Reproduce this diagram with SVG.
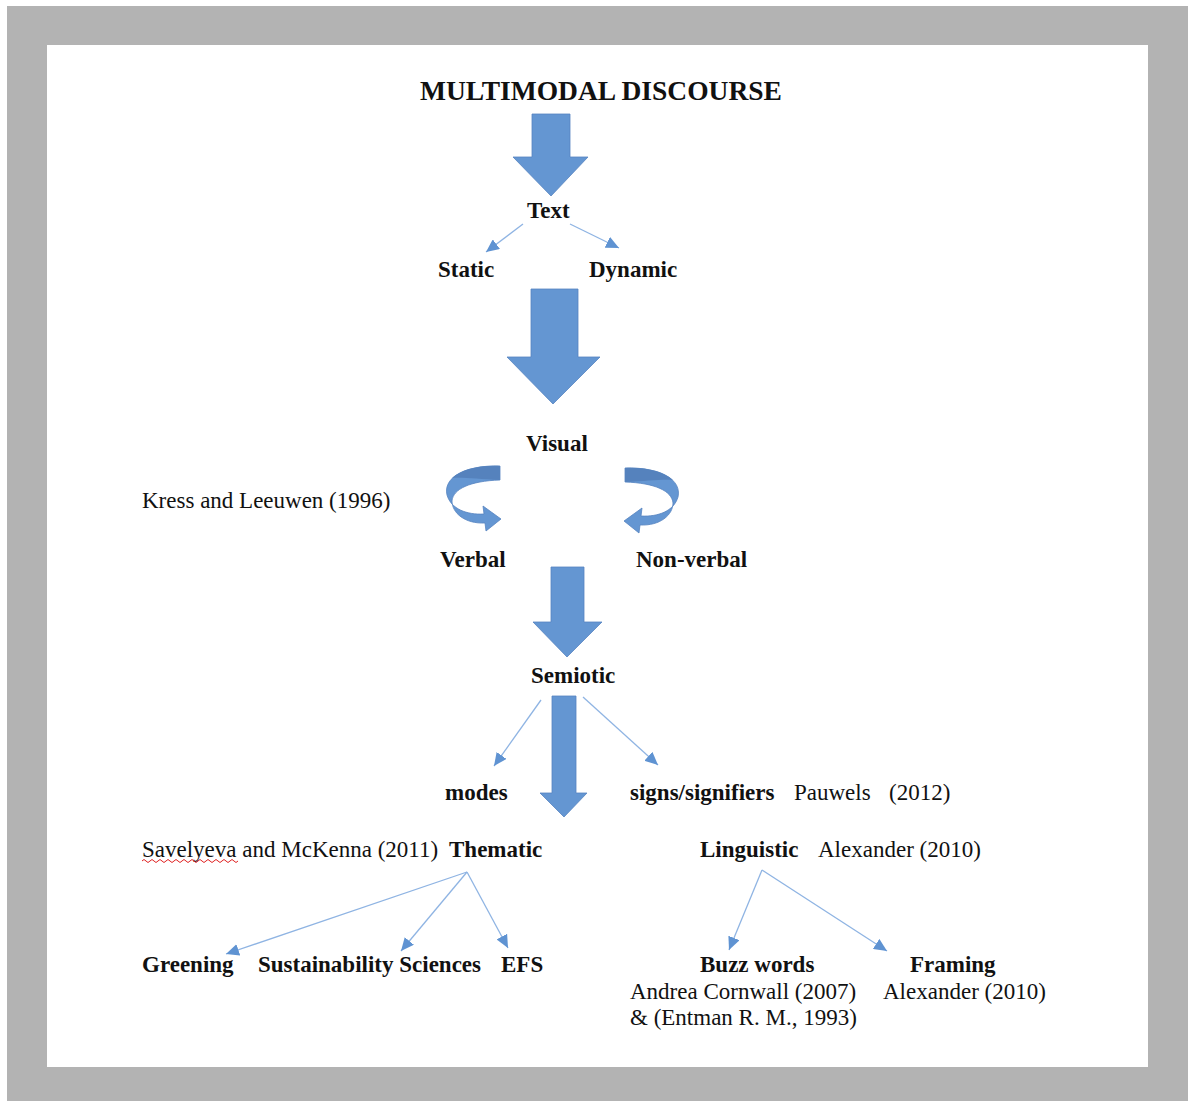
<svg xmlns="http://www.w3.org/2000/svg" width="1188" height="1101" viewBox="0 0 1188 1101">
<style>
.b{font-family:"Liberation Serif","Times New Roman",serif;font-weight:bold;font-size:23px;fill:#111}
.r{font-family:"Liberation Serif","Times New Roman",serif;font-size:23px;fill:#111}
.big{fill:#6496d2;stroke:#5784c0;stroke-width:0.8}
.thin{stroke:#8fb4e3;stroke-width:1.3;fill:none}
</style>
<defs>
<marker id="ah" markerUnits="userSpaceOnUse" markerWidth="14" markerHeight="12" refX="13" refY="6" orient="auto">
<path d="M0,0 L13,6 L0,12 Z" fill="#5f93d2"/>
</marker>
</defs>
<rect x="0" y="0" width="1188" height="1101" fill="#ffffff"/>
<rect x="7" y="6" width="1181" height="1095" fill="#b3b3b3"/>
<rect x="47" y="45" width="1101" height="1022" fill="#ffffff"/>

<g id="connectors">
<path class="big" d="M532,114 L570,114 L570,157 L588,157 L551,196 L513,157 L532,157 Z"/>
<path class="big" d="M531,289 L578,289 L578,357 L600,357 L553,404 L507,357 L531,357 Z"/>
<path class="big" d="M551,567 L584,567 L584,622 L602,622 L567,657 L533,622 L551,622 Z"/>
<path class="big" d="M552,696 L576,696 L576,793 L587,793 L564,817 L540,793 L552,793 Z"/>
<g id="curve-left">
<path class="big" d="M500,466 C464,465 443,478 447,495 C451,509 467,515 484,514 L483,506 L501,519 L486,531 L485,523 C465,524 452,513 452,501 C453,489 470,481 500,480 Z"/>
<path d="M500,466 C478,465 461,470 452,478 C462,477 478,479 500,480 Z" fill="#5582bd"/>
</g>
<g id="curve-right" transform="translate(1125,2) scale(-1,1)">
<path class="big" d="M500,466 C464,465 443,478 447,495 C451,509 467,515 484,514 L483,506 L501,519 L486,531 L485,523 C465,524 452,513 452,501 C453,489 470,481 500,480 Z"/>
<path d="M500,466 C478,465 461,470 452,478 C462,477 478,479 500,480 Z" fill="#5582bd"/>
</g>
<line class="thin" x1="523" y1="224" x2="486" y2="252" marker-end="url(#ah)"/>
<line class="thin" x1="570" y1="224" x2="619" y2="248" marker-end="url(#ah)"/>
<line class="thin" x1="541" y1="700" x2="494" y2="766" marker-end="url(#ah)"/>
<line class="thin" x1="583" y1="697" x2="658" y2="765" marker-end="url(#ah)"/>
<line class="thin" x1="467" y1="872" x2="226" y2="954" marker-end="url(#ah)"/>
<line class="thin" x1="467" y1="872" x2="401" y2="951" marker-end="url(#ah)"/>
<line class="thin" x1="467" y1="872" x2="508" y2="948" marker-end="url(#ah)"/>
<line class="thin" x1="762" y1="870" x2="729" y2="950" marker-end="url(#ah)"/>
<line class="thin" x1="762" y1="870" x2="887" y2="951" marker-end="url(#ah)"/>
</g>

<g id="title"><text class="b" x="601" y="100" text-anchor="middle" style="font-size:27.5px">MULTIMODAL DISCOURSE</text></g>
<g id="text"><text class="b" x="527" y="218">Text</text></g>
<g id="static"><text class="b" x="438" y="277">Static</text></g>
<g id="dynamic"><text class="b" x="589" y="277">Dynamic</text></g>
<g id="visual"><text class="b" x="526" y="451">Visual</text></g>
<g id="kress"><text class="r" x="142" y="508">Kress and Leeuwen (1996)</text></g>
<g id="verbal"><text class="b" x="440" y="567">Verbal</text></g>
<g id="nonverbal"><text class="b" x="636" y="567">Non-verbal</text></g>
<g id="semiotic"><text class="b" x="531" y="683">Semiotic</text></g>
<g id="modes"><text class="b" x="445" y="800">modes</text></g>
<g id="signs"><text class="b" x="630" y="800">signs/signifiers</text><text class="r" x="794" y="800">Pauwels</text><text class="r" x="889" y="800">(2012)</text></g>
<g id="thematic"><text class="r" x="142" y="857">Savelyeva and McKenna (2011)</text><text class="b" x="449" y="857">Thematic</text>
<path d="M142,861 q2,-3 4,0 t4,0 t4,0 t4,0 t4,0 t4,0 t4,0 t4,0 t4,0 t4,0 t4,0 t4,0 t4,0 t4,0 t4,0 t4,0 t4,0 t4,0 t4,0 t4,0 t4,0 t4,0 t4,0 t4,0" fill="none" stroke="#e02020" stroke-width="1"/></g>
<g id="linguistic"><text class="b" x="700" y="857">Linguistic</text><text class="r" x="818" y="857">Alexander (2010)</text></g>
<g id="greening"><text class="b" x="142" y="972">Greening</text></g>
<g id="sustainability"><text class="b" x="258" y="972">Sustainability Sciences</text></g>
<g id="efs"><text class="b" x="501" y="972">EFS</text></g>
<g id="buzz"><text class="b" x="700" y="972">Buzz words</text><text class="r" x="630" y="999">Andrea Cornwall (2007)</text><text class="r" x="630" y="1025">&amp; (Entman R. M., 1993)</text></g>
<g id="framing"><text class="b" x="910" y="972">Framing</text><text class="r" x="883" y="999">Alexander (2010)</text></g>
</svg>
